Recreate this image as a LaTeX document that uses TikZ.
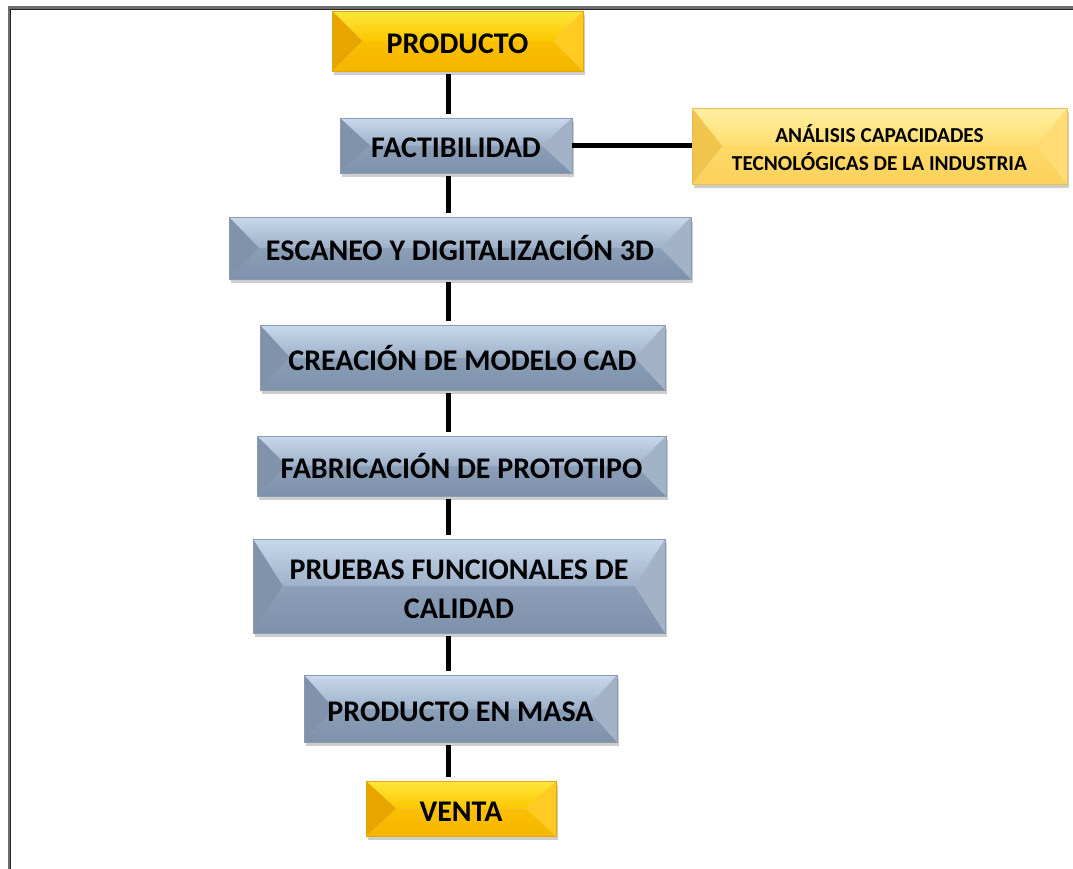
\documentclass[tikz,border=0pt]{standalone}
\usepackage{fontspec}
\setmainfont{Carlito}
\usetikzlibrary{shadows}

% bevel depth of the side facets
\newlength\bev
\setlength\bev{30pt}

\tikzset{
  % four-facet "angle" bevel painted inside a rectangular node
  facets/.style n args={7}{
    path picture={
      \path (path picture bounding box.north west) coordinate (bvnw)
            (path picture bounding box.north east) coordinate (bvne)
            (path picture bounding box.south west) coordinate (bvsw)
            (path picture bounding box.south east) coordinate (bvse)
            ([xshift=\bev]path picture bounding box.west) coordinate (bvw)
            ([xshift=-\bev]path picture bounding box.east) coordinate (bve);
      \shade[top color=#1, bottom color=#2] (bvnw) -- (bvne) -- (bve) -- (bvw) -- cycle;
      \shade[top color=#3, bottom color=#4] (bvsw) -- (bvse) -- (bve) -- (bvw) -- cycle;
      \fill[#5] (bvnw) -- (bvw) -- (bvsw) -- cycle;
      \fill[#6] (bvne) -- (bve) -- (bvse) -- cycle;
    },
    draw=#7, line width=0.8pt
  },
  boxbase/.style={rectangle, inner sep=0pt, align=center, text=black,
    font=\bfseries\fontsize{30}{39}\selectfont,
    drop shadow={shadow xshift=1.5pt, shadow yshift=-4pt, opacity=0.28, fill=black!70}},
  % single-line labels sit slightly below the middle of the box
  oneline/.style={text height=25pt, text depth=0pt},
  bluebox/.style={boxbase,
    facets={c8d9ee}{9eb1c8}{8b9fb8}{7d91ab}{8192ab}{a2b3c8}{8a9cb4}},
  goldbox/.style={boxbase,
    facets={ffe63a}{fdc700}{fbbf00}{f4b600}{e8a500}{ffcb22}{e3a800}},
  lightgold/.style={boxbase,
    font=\bfseries\fontsize{21.3}{28}\selectfont,
    facets={ffefa2}{ffdd6e}{ffd966}{fcd15d}{f1c54d}{ffdc74}{e9c058}},
  link/.style={line width=5pt, draw=black},
}
\definecolor{c8d9ee}{HTML}{C8D9EE}
\definecolor{9eb1c8}{HTML}{9EB1C8}
\definecolor{8b9fb8}{HTML}{8B9FB8}
\definecolor{7d91ab}{HTML}{7D91AB}
\definecolor{8192ab}{HTML}{8192AB}
\definecolor{a2b3c8}{HTML}{A2B3C8}
\definecolor{8a9cb4}{HTML}{8A9CB4}
\definecolor{ffe63a}{HTML}{FFE63A}
\definecolor{fdc700}{HTML}{FDC700}
\definecolor{fbbf00}{HTML}{FBBF00}
\definecolor{f4b600}{HTML}{F4B600}
\definecolor{e8a500}{HTML}{E8A500}
\definecolor{ffcb22}{HTML}{FFCB22}
\definecolor{e3a800}{HTML}{E3A800}
\definecolor{ffefa2}{HTML}{FFEFA2}
\definecolor{ffdd6e}{HTML}{FFDD6E}
\definecolor{ffd966}{HTML}{FFD966}
\definecolor{fcd15d}{HTML}{FCD15D}
\definecolor{f1c54d}{HTML}{F1C54D}
\definecolor{ffdc74}{HTML}{FFDC74}
\definecolor{e9c058}{HTML}{E9C058}
\definecolor{framegray}{HTML}{6E6E6E}

\begin{document}
\begin{tikzpicture}[x=1pt, y=-1pt]
  \useasboundingbox[fill=white] (0,0) rectangle (1073,869);

  % page frame (top and left rules)
  \draw[framegray, line width=3pt] (9.5,869) -- (9.5,8) -- (1073,8);
  \draw[black!85, line width=1.2pt] (10.5,869) -- (10.5,9.2) -- (1073,9.2);

  % process steps
  \node[goldbox,  oneline, minimum width=251pt, minimum height=60pt] (prod)  at (457.5,41)  {PRODUCTO};
  \node[bluebox,  oneline, minimum width=232pt, minimum height=55pt] (fact)  at (456,145.5) {FACTIBILIDAD};
  \node[lightgold, text height=50pt, text depth=0pt, minimum width=375pt, minimum height=76pt] (anal) at (879.5,146) {ANÁLISIS CAPACIDADES\\TECNOLÓGICAS DE LA INDUSTRIA};
  \node[bluebox,  oneline, minimum width=462pt, minimum height=62pt] (esc)   at (460,248)   {ESCANEO Y DIGITALIZACIÓN 3D};
  \node[bluebox,  oneline, minimum width=405pt, minimum height=65pt] (cad)   at (462.5,357.5) {CREACIÓN DE MODELO CAD};
  \node[bluebox,  oneline, minimum width=409pt, minimum height=60pt] (fab)   at (461.5,466) {FABRICACIÓN DE PROTOTIPO};
  \node[bluebox,  text height=64pt, text depth=0pt, minimum width=412pt, minimum height=94pt] (prue) at (459,586) {PRUEBAS FUNCIONALES DE\\CALIDAD};
  \node[bluebox,  oneline, minimum width=313pt, minimum height=67pt] (masa)  at (460.5,708.5) {PRODUCTO EN MASA};
  \node[goldbox,  oneline, minimum width=190pt, minimum height=55pt] (venta) at (461,808.5) {VENTA};

  % vertical spine of the flow
  \coordinate (spine) at (448,0);
  \foreach \a/\b in {prod/fact, fact/esc, esc/cad, cad/fab, fab/prue, prue/masa, masa/venta}
    \draw[link, shorten <=3pt, shorten >=4pt] (\a.south -| spine) -- (\b.north -| spine);

  % side branch
  \draw[link] (fact.east) -- (fact.east -| anal.west);
\end{tikzpicture}
\end{document}
